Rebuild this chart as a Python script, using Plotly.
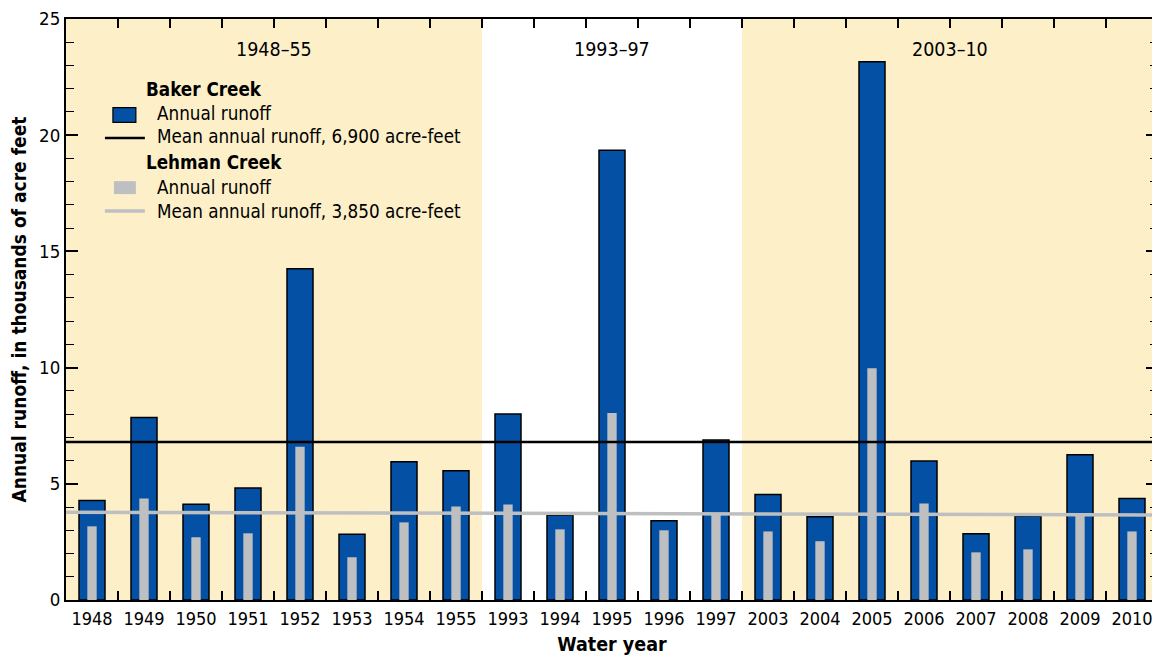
import plotly.graph_objects as go

years = ["1948", "1949", "1950", "1951", "1952", "1953", "1954", "1955",
         "1993", "1994", "1995", "1996", "1997",
         "2003", "2004", "2005", "2006", "2007", "2008", "2009", "2010"]
baker = [4.28, 7.85, 4.12, 4.82, 14.25, 2.83, 5.95, 5.56,
         8.0, 3.65, 19.35, 3.41, 6.88,
         4.54, 3.58, 23.16, 5.98, 2.85, 3.6, 6.25, 4.37]
lehman = [3.17, 4.37, 2.7, 2.87, 6.59, 1.84, 3.34, 4.02,
          4.11, 3.04, 8.05, 3.0, 3.72,
          2.95, 2.53, 9.97, 4.15, 2.05, 2.18, 3.72, 2.95]
baker_mean = 6.8
lehman_mean = [3.78, 3.66]
periods = ["1948\u201355", "1993\u201397", "2003\u201310"]
period_spans = [(0, 7), (8, 12), (13, 20)]

FONT = "DejaVu Sans Condensed, Liberation Sans Narrow, Roboto, sans-serif"
BLUE = "#0450a4"
GRAY = "#bebfc1"
SHADE = "#fdefc8"

OFF = 8  # page body margin
PL, PR, PT, PB = 66, 1160, 16, 600   # plot area in page pixels
W, H = 1160 - OFF, 657 - OFF
L, R, T, B = PL - OFF, PR - OFF, PT - OFF, PB - OFF

def px(x):
    return (x - PL) / (PR - PL)

def py(y):
    return (PB - y) / (PB - PT)

fig = go.Figure()
fig.add_trace(go.Bar(x=years, y=baker, width=0.5, marker=dict(color=BLUE, line=dict(color="black", width=1.5)),
                     name="Baker Creek annual runoff", showlegend=False, hoverinfo="skip"))
fig.add_trace(go.Bar(x=years, y=lehman, width=0.18, marker=dict(color=GRAY, line=dict(width=0)),
                     name="Lehman Creek annual runoff", showlegend=False, hoverinfo="skip"))

shapes = []
for i in (0, 2):
    a, b = period_spans[i]
    shapes.append(dict(type="rect", xref="x", yref="paper", x0=a - 0.5, x1=b + 0.5, y0=0, y1=1,
                       fillcolor=SHADE, line=dict(width=0), layer="below"))
shapes.append(dict(type="line", xref="paper", yref="y", x0=0, x1=1, y0=baker_mean, y1=baker_mean,
                   line=dict(color="black", width=2.5)))
shapes.append(dict(type="line", xref="paper", yref="y", x0=0, x1=1, y0=lehman_mean[0], y1=lehman_mean[1],
                   line=dict(color=GRAY, width=3.5)))

shapes.append(dict(type="rect", xref="paper", yref="paper", x0=px(113), x1=px(136), y0=py(120), y1=py(105),
                   fillcolor=BLUE, line=dict(color="black", width=1.2)))
shapes.append(dict(type="line", xref="paper", yref="paper", x0=px(105), x1=px(145), y0=py(135.5), y1=py(135.5),
                   line=dict(color="black", width=2.5)))
shapes.append(dict(type="rect", xref="paper", yref="paper", x0=px(114), x1=px(136), y0=py(192), y1=py(179),
                   fillcolor=GRAY, line=dict(width=0)))
shapes.append(dict(type="line", xref="paper", yref="paper", x0=px(105), x1=px(145), y0=py(209), y1=py(209),
                   line=dict(color=GRAY, width=3.5)))

annotations = []
for name, (a, b) in zip(periods, period_spans):
    annotations.append(dict(text=name, xref="x", yref="paper", x=(a + b) / 2, y=py(47), showarrow=False,
                            font=dict(family=FONT, size=19.5, color="black"), xanchor="center", yanchor="middle"))

legend_text = [
    ("<b>Baker Creek</b>", 144, 87),
    ("Annual runoff", 155, 111),
    ("Mean annual runoff, 6,900 acre-feet", 155, 134),
    ("<b>Lehman Creek</b>", 144, 160),
    ("Annual runoff", 155, 185),
    ("Mean annual runoff, 3,850 acre-feet", 155, 209),
]
for txt, x, y in legend_text:
    annotations.append(dict(text=txt, xref="paper", yref="paper", x=px(x), y=py(y), showarrow=False,
                            font=dict(family=FONT, size=18.7, color="black"), xanchor="left", yanchor="middle"))

fig.update_layout(
    width=W, height=H, autosize=False,
    margin=dict(l=L, r=W - R, t=T, b=H - B, pad=0),
    paper_bgcolor="white", plot_bgcolor="white",
    barmode="overlay",
    shapes=shapes, annotations=annotations,
    font=dict(family=FONT, color="black"),
    showlegend=False,
)
fig.update_xaxes(
    type="category", categoryorder="array", categoryarray=years,
    range=[-0.5, len(years) - 0.5],
    showline=True, linecolor="black", linewidth=2, mirror="ticks",
    ticks="inside", tickson="boundaries", ticklen=9, tickcolor="black", tickwidth=1.5,
    tickfont=dict(family=FONT, size=18, color="black"), ticklabelstandoff=1,
    title=dict(text="<b>Water year</b>", font=dict(family=FONT, size=19.5, color="black"), standoff=10),
    showgrid=False, zeroline=False,
)
fig.update_yaxes(
    range=[0, 25], tickvals=[0, 5, 10, 15, 20, 25], ticklabeloverflow="allow",
    showline=True, linecolor="black", linewidth=2, mirror="ticks",
    ticks="inside", ticklen=12, tickcolor="black", tickwidth=1.5,
    minor=dict(dtick=1, ticks="inside", ticklen=8, tickcolor="black", tickwidth=1, showgrid=False),
    tickfont=dict(family=FONT, size=18.5, color="black"),
    title=dict(text="<b>Annual runoff, in thousands of acre feet</b>", font=dict(family=FONT, size=19, color="black"), standoff=10),
    showgrid=False, zeroline=False,
)

fig.write_html("out.html", config={"responsive": False})
